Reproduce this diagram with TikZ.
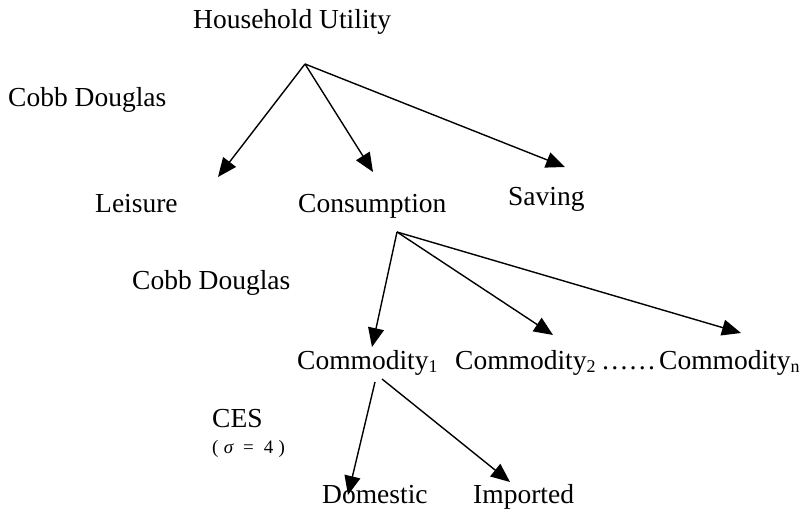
\documentclass[tikz,border=0pt]{standalone}
\usepackage{fontspec}
\setmainfont{Liberation Serif}
\usetikzlibrary{arrows.meta}
\begin{document}
\begin{tikzpicture}[x=1pt,y=-1pt,
  lbl/.style={anchor=base west,inner sep=0pt,font=\fontsize{27.5}{30}\selectfont},
  small/.style={anchor=base west,inner sep=0pt,font=\fontsize{19}{21}\selectfont},
  arr/.style={line width=1.4pt,-{Triangle[length=19pt,width=16pt]}}]
\useasboundingbox (0,0) rectangle (812,513);
\newcommand{\sbs}[1]{\raisebox{-3pt}{\fontsize{18}{18}\selectfont #1}}
% labels
\node[lbl] (hu) at (193,29) {Household Utility};
\node[lbl] (cd1) at (8,107) {Cobb Douglas};
\node[lbl] (leis) at (95,213) {Leisure};
\node[lbl] (cons) at (298,213) {Consumption};
\node[lbl] (sav) at (508,206) {Saving};
\node[lbl] (cd2) at (132,290) {Cobb Douglas};
\node[lbl] (com1) at (297,370) {Commodity\sbs{1}};
\node[lbl] (com2) at (455,370) {Commodity\sbs{2}};
\node[lbl] (dots) at (601,370) {……};
\node[lbl] (comn) at (659,370) {Commodity\sbs{n}};
\node[lbl] (ces) at (212,427) {CES};
\node[small] (sig) at (212,453) {(\;{\itshape σ}\; =\; 4\;)};
\node[lbl] (dom) at (322,503) {Domestic};
\node[lbl] (imp) at (473,503) {Imported};
% connector ends
\coordinate (a1) at (305,64);
\coordinate (tL) at (218,177);
\coordinate (tC) at (373,172);
\coordinate (tS) at (565,167);
\coordinate (a2) at (397,232);
\coordinate (t1) at (372,347);
\coordinate (t2) at (553,335);
\coordinate (tn) at (741,333);
\coordinate (a3l) at (375,382);
\coordinate (a3r) at (382,379);
\coordinate (tD) at (348,495);
\coordinate (tI) at (510,482);
% connectors
\draw[arr] (a1) -- (tL);
\draw[arr] (a1) -- (tC);
\draw[arr] (a1) -- (tS);
\draw[arr] (a2) -- (t1);
\draw[arr] (a2) -- (t2);
\draw[arr] (a2) -- (tn);
\draw[arr] (a3l) -- (tD);
\draw[arr] (a3r) -- (tI);
\end{tikzpicture}
\end{document}
